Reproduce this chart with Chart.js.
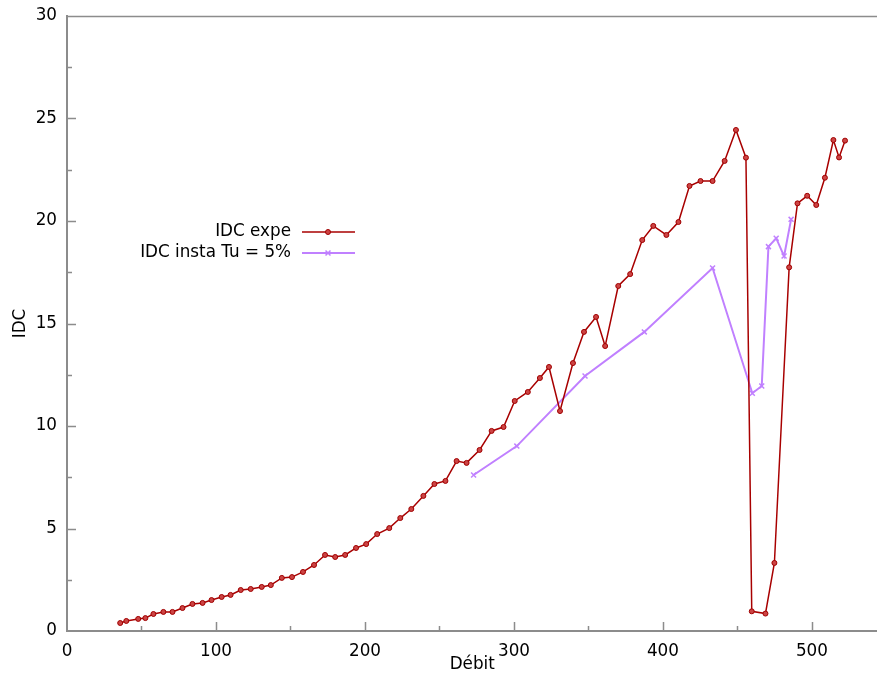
<!DOCTYPE html>
<html>
<head>
<meta charset="utf-8">
<script src="https://cdn.jsdelivr.net/npm/chart.js@4/dist/chart.umd.min.js"></script>
<style>
    html, body { margin: 0; padding: 0; background: #fff; overflow: hidden; }
    #wrap { width: 877px; height: 675px; overflow: hidden; }
</style>
</head>
<body>
<div id="wrap"><canvas id="idcChart" width="883" height="675"></canvas></div>
<script>
// IDC expe (Débit / IDC)
const debitExpe = [35.7, 39.8, 47.8, 52.6, 58, 64.7, 70.8, 77.5, 84.2, 91, 97, 103.8, 109.8, 116.6, 123.3,
    130.7, 136.8, 144.2, 151, 158.4, 165.8, 173.2, 180, 186.7, 194, 200.8, 208.2, 216.3, 223.7, 231.1,
    239.2, 246.6, 254, 261.5, 268.2, 276.9, 285, 293, 300.5, 309.3, 317.4, 323.5, 330.9, 339.6, 347,
    355.1, 361.2, 370, 378, 386.1, 393.5, 402.3, 410.4, 417.8, 425.2, 433.3, 441.4, 449, 455.7, 459.6,
    468.8, 474.8, 484.7, 490.3, 496.8, 502.9, 508.7, 514.4, 518.2, 522.2];
const idcExpe = [0.39, 0.49, 0.59, 0.63, 0.83, 0.93, 0.93, 1.12, 1.32, 1.37, 1.51, 1.66, 1.76, 2.0, 2.05,
    2.15, 2.24, 2.59, 2.63, 2.88, 3.22, 3.71, 3.61, 3.71, 4.05, 4.24, 4.73, 5.02, 5.51, 5.95,
    6.59, 7.17, 7.32, 8.29, 8.2, 8.83, 9.76, 9.95, 11.22, 11.66, 12.34, 12.88, 10.73, 13.07, 14.59,
    15.32, 13.9, 16.83, 17.41, 19.07, 19.76, 19.32, 19.95, 21.71, 21.95, 21.95, 22.93, 24.44, 23.09, 0.96,
    0.85, 3.32, 17.74, 20.86, 21.23, 20.78, 22.11, 23.95, 23.1, 23.92];

// IDC insta Tu = 5%
const debitInsta = [272.9, 301.9, 347.7, 387.5, 433.3, 460, 466.3, 470.8, 476, 481.3, 486];
const idcInsta = [7.61, 9.02, 12.44, 14.59, 17.71, 11.6, 11.95, 18.75, 19.16, 18.29, 20.08];

const seriesLabels = ["IDC expe", "IDC insta Tu = 5%"];
const xTitle = "Débit";
const yTitle = "IDC";

const axisColor = "#8c8c8c";
const fontFamily = "'DejaVu Sans', sans-serif";
const fontSize = 16.8;

function toPoints(xs, ys) {
    return xs.map((v, i) => ({ x: v, y: ys[i] }));
}

// ticks inward + top border + legend inside the plot
const gnuplotLook = {
    id: "gnuplotLook",
    afterDraw(chart) {
        const ctx = chart.ctx;
        const a = chart.chartArea;
        const xs = chart.scales.x, ys = chart.scales.y;
        ctx.save();
        ctx.strokeStyle = axisColor;
        ctx.lineWidth = 1.5;
        ctx.beginPath();
        ctx.moveTo(a.left, a.top + 0.5);
        ctx.lineTo(a.right, a.top + 0.5);
        for (let v = 50; v <= xs.max; v += 50) {
            let px = Math.round(xs.getPixelForValue(v)) + 0.5;
            let len = v % 100 === 0 ? 9 : 5;
            ctx.moveTo(px, a.bottom);
            ctx.lineTo(px, a.bottom - len);
        }
        for (let v = 2.5; v < ys.max; v += 2.5) {
            let py = Math.round(ys.getPixelForValue(v)) + 0.5;
            let len = v % 5 === 0 ? 9 : 5;
            ctx.moveTo(a.left, py);
            ctx.lineTo(a.left + len, py);
        }
        ctx.stroke();

        // legend
        ctx.font = fontSize + "px " + fontFamily;
        ctx.textAlign = "right";
        ctx.textBaseline = "middle";
        chart.data.datasets.forEach((ds, i) => {
            let rowY = 232 + i * 21;
            ctx.fillStyle = "#000";
            ctx.fillText(ds.label, 291, rowY);
            ctx.strokeStyle = ds.borderColor;
            ctx.lineWidth = ds.borderWidth;
            ctx.beginPath();
            ctx.moveTo(302, rowY);
            ctx.lineTo(355, rowY);
            ctx.stroke();
            ctx.fillStyle = ds.pointBackgroundColor;
            ctx.strokeStyle = ds.pointBorderColor;
            ctx.lineWidth = ds.pointBorderWidth;
            Chart.helpers.drawPoint(ctx, {
                pointStyle: ds.pointStyle, radius: ds.pointRadius, rotation: 0, borderWidth: ds.pointBorderWidth
            }, 328, rowY);
        });
        ctx.restore();
    }
};

const ctx = document.getElementById("idcChart").getContext("2d");

const chart = new Chart(ctx, {
    type: "line",
    data: {
        datasets: [
            {
                label: seriesLabels[0],
                data: toPoints(debitExpe, idcExpe),
                borderColor: "#a80000",
                borderWidth: 1.5,
                pointStyle: "circle",
                pointRadius: 2.5,
                pointBackgroundColor: "#cc4444",
                pointBorderColor: "#a00000",
                pointBorderWidth: 1,
                fill: false,
                tension: 0
            },
            {
                label: seriesLabels[1],
                data: toPoints(debitInsta, idcInsta),
                borderColor: "#c080ff",
                borderWidth: 2,
                pointStyle: "crossRot",
                pointRadius: 3.5,
                pointBackgroundColor: "#c080ff",
                pointBorderColor: "#c080ff",
                pointBorderWidth: 1.5,
                fill: false,
                tension: 0
            }
        ]
    },
    options: {
        responsive: false,
        animation: false,
        layout: { padding: { top: 16, right: 0, left: 0, bottom: 0 } },
        plugins: {
            legend: { display: false },
            tooltip: { enabled: false }
        },
        scales: {
            x: {
                type: "linear",
                min: 0,
                max: 544,
                grid: { display: false, drawTicks: false },
                border: { display: true, color: axisColor, width: 2 },
                ticks: {
                    stepSize: 100,
                    includeBounds: false,
                    maxRotation: 0,
                    padding: 11,
                    color: "#000",
                    font: { family: fontFamily, size: fontSize }
                },
                title: {
                    display: true,
                    text: xTitle,
                    color: "#000",
                    padding: { top: 0, bottom: 0 },
                    font: { family: fontFamily, size: fontSize }
                },
                afterFit(scale) {
                    scale.height = 44;
                    scale.paddingLeft = 0;
                    scale.paddingRight = 0;
                }
            },
            y: {
                type: "linear",
                min: 0,
                max: 30,
                grid: { display: false, drawTicks: false },
                border: { display: true, color: axisColor, width: 2 },
                ticks: {
                    stepSize: 5,
                    padding: 10,
                    color: "#000",
                    font: { family: fontFamily, size: fontSize }
                },
                title: {
                    display: true,
                    text: yTitle,
                    color: "#000",
                    padding: { top: 11, bottom: 0 },
                    font: { family: fontFamily, size: fontSize }
                },
                afterFit(scale) {
                    scale.width = 67;
                    scale.paddingTop = 0;
                    scale.paddingBottom = 0;
                }
            }
        }
    },
    plugins: [gnuplotLook]
});
</script>
</body>
</html>
